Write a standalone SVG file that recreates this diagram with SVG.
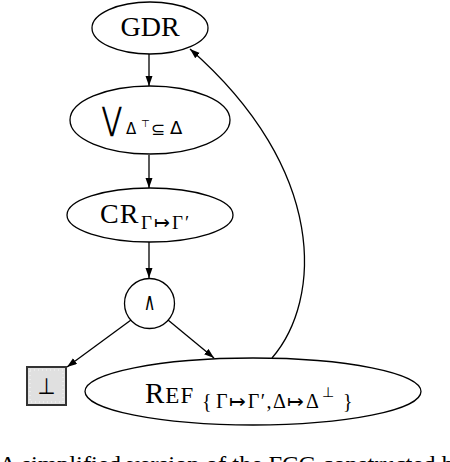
<svg xmlns="http://www.w3.org/2000/svg" width="450" height="462" viewBox="0 0 450 462">
<style>
.node{fill:none;stroke:#000;stroke-width:1.3}
.edge{fill:none;stroke:#000;stroke-width:1.3}
.serif{font-family:"Liberation Serif","Times New Roman",serif;fill:#000}
.sans{font-family:"DejaVu Sans",sans-serif;fill:#000}
</style>
<defs>
<marker id="arr" markerUnits="userSpaceOnUse" markerWidth="11" markerHeight="8" refX="10" refY="3.5" orient="auto">
<path d="M0,0 L10,3.5 L0,7 z" fill="#000"/>
</marker>
</defs>
<rect width="450" height="462" fill="#fff"/>
<g id="edges">
<line class="edge" x1="149" y1="54" x2="149" y2="86" marker-end="url(#arr)"/>
<line class="edge" x1="149" y1="155" x2="149" y2="188" marker-end="url(#arr)"/>
<line class="edge" x1="149" y1="242" x2="149" y2="278" marker-end="url(#arr)"/>
<line class="edge" x1="131" y1="320" x2="67" y2="367" marker-end="url(#arr)"/>
<line class="edge" x1="168" y1="320" x2="214" y2="358" marker-end="url(#arr)"/>
<path class="edge" d="M272,358 C322,300 328,170 190,49" marker-end="url(#arr)"/>
</g>
<g id="gdr">
<ellipse class="node" cx="150" cy="28" rx="58" ry="26"/>
<text class="serif" x="150" y="36" font-size="28" text-anchor="middle">GDR</text>
</g>
<g id="vee">
<ellipse class="node" cx="150" cy="120" rx="80" ry="34"/>
<text class="sans" transform="translate(102,130) scale(1,1.35)" font-size="24">⋁</text>
<text class="sans" x="126" y="134" font-size="15">Δ</text>
<text class="sans" x="141" y="127" font-size="10">⊤</text>
<text class="sans" x="151" y="135" font-size="17">⊆</text>
<text class="sans" x="170" y="134" font-size="18">Δ</text>
</g>
<g id="cr">
<ellipse class="node" cx="150" cy="215" rx="83" ry="27"/>
<text class="serif" x="100" y="223" font-size="28" letter-spacing="1">CR</text>
<text class="serif" x="141" y="229" font-size="19" letter-spacing="2">Γ↦Γ′</text>
</g>
<g id="and">
<circle class="node" cx="149.5" cy="303.5" r="25"/>
<text class="sans" transform="translate(149.5,310) scale(1,1.5)" font-size="16" text-anchor="middle">∧</text>
</g>
<g id="bottom">
<rect x="27" y="367" width="39" height="38" fill="#e0e0e0" stroke="#333" stroke-width="2"/>
<rect x="30" y="370" width="33" height="32" fill="none" stroke="#fff" stroke-width="0.8" stroke-dasharray="1,3"/>
<text class="sans" transform="translate(46.5,394) scale(1.15,1.25)" font-size="18" text-anchor="middle">⊥</text>
</g>
<g id="ref">
<ellipse class="node" cx="253" cy="391.5" rx="168" ry="33.5"/>
<text class="serif" x="145" y="403" font-size="29" letter-spacing="1">R<tspan font-size="23">EF</tspan></text>
<text class="serif" x="202" y="408" font-size="20" letter-spacing="1.5">{<tspan dx="3">Γ↦Γ′,Δ↦Δ</tspan></text>
<text class="serif" x="322" y="397" font-size="14">⊥</text>
<text class="serif" x="343" y="408" font-size="20">}</text>
</g>
<text class="serif" x="-1" y="472" font-size="24" textLength="455" lengthAdjust="spacingAndGlyphs">A simplified version of the FCG constructed b</text>
</svg>
